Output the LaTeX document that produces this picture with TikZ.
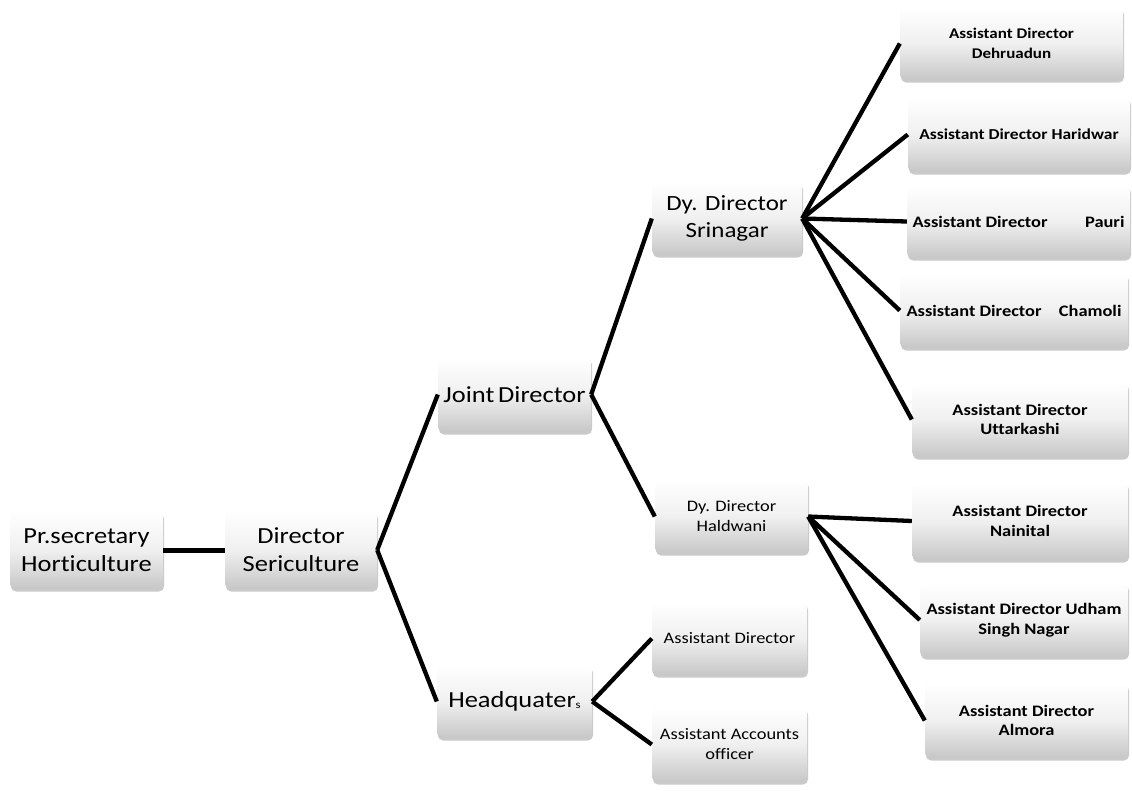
\documentclass[tikz,border=0pt]{standalone}
\usepackage{fontspec}
\setmainfont{Carlito}[FakeStretch=1.15, Ligatures={NoCommon}]
\usetikzlibrary{shadows}
\begin{document}
\begin{tikzpicture}[x=1pt,y=-1pt,
  orgbox/.style={rectangle, rounded corners=5pt, draw=none,
    top color=white, bottom color=black!22, middle color=black!6,
    drop shadow={shadow xshift=1pt, shadow yshift=-2.5pt, opacity=0.35, fill=black!60},
    align=center, inner sep=1pt},
  big/.style={orgbox, font=\fontsize{23}{28}\selectfont},
  mid/.style={orgbox, font=\fontsize{16}{20}\selectfont},
  sml/.style={orgbox, font=\bfseries\fontsize{16}{19.5}\selectfont},
  link/.style={line width=4.3pt, black}]
\useasboundingbox (0,0) rectangle (1132,790);
\node[big, minimum width=153, minimum height=78] (pr) at (86.5,550) {Pr.secretary\\Horticulture};
\node[big, minimum width=152, minimum height=78] (dir) at (301,550) {Director\\Sericulture};
\node[big, minimum width=153, minimum height=75] (jd) at (514.5,394.5) {Joint\,Director};
\node[big, minimum width=155, minimum height=73] (hq) at (514.5,701.5) {Headquater\raisebox{-1pt}{\fontsize{11}{11}\selectfont s}};
\node[big, minimum width=150, minimum height=73, font=\fontsize{21.7}{27}\selectfont] (srin) at (727,218.5) {Dy. Director\\Srinagar};
\node[mid, minimum width=153, minimum height=73] (hald) at (731.5,516.5) {Dy. Director\\Haldwani};
\node[mid, minimum width=155, minimum height=73] (hqad) at (729.5,638.5) {Assistant Director};
\node[mid, minimum width=155, minimum height=75] (acc) at (729.5,744.5) {Assistant Accounts\\officer};
\node[sml, minimum width=223, minimum height=73, font=\bfseries\fontsize{14.8}{20}\selectfont] (deh) at (1011.5,43.5) {Assistant Director\\Dehruadun};
\node[sml, minimum width=222, minimum height=75, font=\bfseries\fontsize{15.2}{20}\selectfont] (har) at (1019,134.5) {Assistant Director Haridwar};
\node[sml, minimum width=223, minimum height=73] (pau) at (1018.5,221.5) {\hbox to 212pt{Assistant Director\hfill Pauri}};
\node[sml, minimum width=228, minimum height=75] (cha) at (1014,310.5) {\hbox to 215pt{Assistant Director\hfill Chamoli}};
\node[sml, minimum width=216, minimum height=75] (utt) at (1020,419.5) {Assistant Director\\Uttarkashi};
\node[sml, minimum width=216, minimum height=78] (nai) at (1020,521) {Assistant Director\\Nainital};
\node[sml, minimum width=208, minimum height=74] (udh) at (1024,620) {Assistant Director Udham\\Singh Nagar};
\node[sml, minimum width=203, minimum height=75] (alm) at (1026.5,720.5) {Assistant Director\\Almora};
\draw[link, line width=5pt] (pr.east) -- (dir.west);
\draw[link] (dir.east) -- (jd.west);
\draw[link] (dir.east) -- (hq.west);
\draw[link] (jd.east) -- (srin.west);
\draw[link] (jd.east) -- (hald.west);
\draw[link] (hq.east) -- (hqad.west);
\draw[link] (hq.east) -- (acc.west);
\foreach \t in {deh,har,pau,cha,utt} \draw[link] (srin.east) -- (\t.west);
\foreach \t in {nai,udh,alm} \draw[link] (hald.east) -- (\t.west);
\end{tikzpicture}
\end{document}
